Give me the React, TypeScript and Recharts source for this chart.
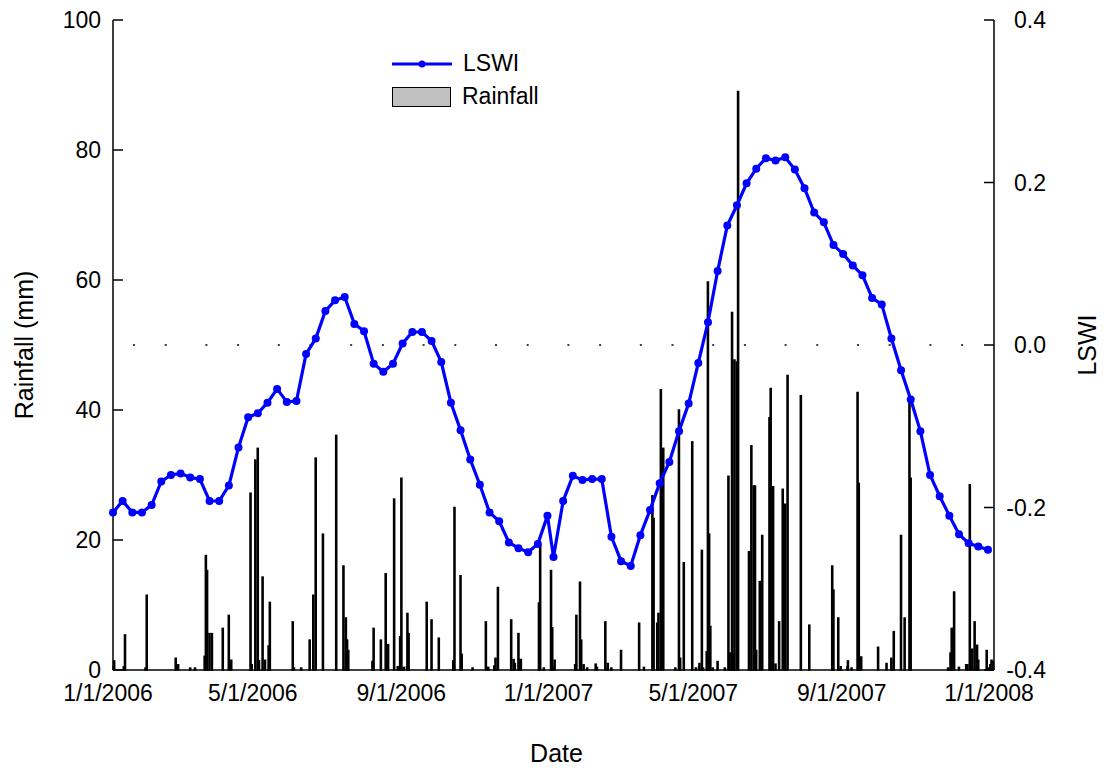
import { ComposedChart, Bar, Line, XAxis, YAxis, ReferenceLine, Legend } from "recharts";

const FONT = '"Liberation Sans", Arial, sans-serif';
const BLUE = "#0000ff";

// LSWI, MODIS 8-day composites starting on day-of-year 1, 9, 17 ... 361
const lswi2006 = [
  -0.206, -0.192, -0.206, -0.206, -0.197, -0.168, -0.16, -0.158, -0.163, -0.165, -0.192, -0.192,
  -0.173, -0.126, -0.089, -0.084, -0.071, -0.054, -0.07, -0.069, -0.011, 0.008, 0.042, 0.055,
  0.059, 0.026, 0.017, -0.023, -0.033, -0.023, 0.002, 0.016, 0.016, 0.005, -0.021, -0.071,
  -0.105, -0.141, -0.172, -0.206, -0.217, -0.243, -0.25, -0.255, -0.245, -0.21,
];
const lswi2007 = [
  -0.261, -0.192, -0.161, -0.166, -0.165, -0.165, -0.236, -0.266, -0.272, -0.234, -0.203, -0.17,
  -0.144, -0.106, -0.072, -0.022, 0.028, 0.091, 0.147, 0.172, 0.199, 0.217, 0.23, 0.227,
  0.231, 0.216, 0.193, 0.163, 0.151, 0.123, 0.112, 0.098, 0.086, 0.058, 0.05, 0.008,
  -0.031, -0.067, -0.106, -0.16, -0.186, -0.21, -0.233, -0.244, -0.248, -0.252,
];

// daily rainfall: day of year and mm (dry days left out)
const rain2006Doy = [
  2, 10, 11, 28, 29, 53, 55, 65, 69, 77, 78, 79, 81, 83, 92, 97, 99, 115, 116, 119, 121, 122, 125,
  127, 130, 131, 150, 151, 157, 164, 167, 169, 175, 186, 192, 194, 195, 196, 216, 217, 223, 227,
  229, 234, 237, 239, 240, 242, 245, 246, 261, 265, 271, 283, 284, 289, 290, 299, 310, 312, 317,
  318, 320, 331, 333, 334, 337, 338, 339, 354, 355, 358, 364, 365,
];
const rain2006Mm = [
  1.4, 0.5, 5.4, 0.3, 11.5, 1.8, 0.8, 0.3, 0.3, 2.1, 17.6, 15.3, 5.6, 5.6, 6.4, 8.4, 1.5, 27.2, 0.8,
  32.3, 34.1, 1.4, 14.3, 1.5, 3.7, 10.4, 7.4, 0.3, 0.3, 4.6, 11.5, 32.6, 20.9, 36.1, 16.0, 8.0, 4.6,
  3.0, 1.3, 6.4, 4.6, 14.8, 3.9, 26.3, 0.5, 5.1, 29.5, 0.4, 8.7, 5.6, 10.4, 7.7, 4.9, 1.4, 25.0,
  14.5, 2.4, 0.3, 7.4, 0.4, 0.6, 1.8, 12.7, 7.7, 1.6, 1.0, 5.6, 1.6, 1.6, 10.3, 19.1, 0.3, 15.3, 6.5,
];
const rain2007Doy = [
  2, 19, 20, 23, 24, 26, 29, 36, 37, 44, 46, 49, 57, 72, 76, 83, 84, 87, 88, 90, 92, 102, 105, 106,
  109, 116, 119, 122, 124, 125, 128, 129, 130, 131, 133, 137, 143, 146, 147, 149, 150, 151, 153,
  154, 163, 165, 167, 168, 169, 172, 174, 180, 181, 183, 185, 188, 191, 193, 195, 206, 213, 232,
  233, 237, 239, 245, 248, 253, 254, 256, 270, 277, 281, 283, 289, 292, 296, 297, 328, 330, 331,
  333, 337, 343, 344, 346, 348, 350, 352, 353, 360, 362, 363, 364, 365,
];
const rain2007Mm = [
  1.5, 0.8, 8.4, 13.5, 4.6, 0.8, 0.3, 0.9, 0.4, 7.4, 1.0, 0.3, 3.0, 7.2, 0.4, 26.8, 23.3, 7.2, 8.7,
  43.1, 34.1, 0.3, 40.0, 1.8, 16.5, 35.1, 0.3, 1.0, 18.4, 0.3, 2.8, 59.7, 20.9, 6.7, 0.3, 1.3, 0.3,
  29.8, 2.6, 55.0, 2.4, 47.7, 47.4, 89.0, 18.2, 34.5, 28.3, 28.3, 3.0, 13.6, 20.7, 38.8, 43.3, 28.2,
  0.9, 7.4, 27.8, 25.5, 45.3, 42.2, 6.9, 16.0, 12.3, 8.0, 0.5, 1.4, 0.3, 42.7, 28.7, 2.0, 3.5, 1.0,
  1.8, 5.9, 20.7, 8.0, 42.1, 29.5, 0.3, 2.6, 6.4, 12.0, 0.4, 0.8, 0.8, 28.5, 3.2, 7.4, 3.8, 1.5,
  3.0, 0.3, 0.8, 1.5, 1.3,
];

const xTickDates = ["2006-01-01", "2006-05-01", "2006-09-01", "2007-01-01", "2007-05-01", "2007-09-01", "2008-01-01"];
const rainTicks = [0, 20, 40, 60, 80, 100];
const lswiTicks = [-0.4, -0.2, 0, 0.2, 0.4];

const DAY = 86400000;
const doyTime = (year: number, doy: number) => Date.UTC(year, 0, 1) + (doy - 1) * DAY;
const xTicks = xTickDates.map((d) => Date.parse(d));

type Row = { t: number; rain?: number; lswi?: number };
const rows = new Map<number, Row>();
const put = (t: number, key: "rain" | "lswi", v: number) => {
  const r = rows.get(t) ?? { t };
  r[key] = v;
  rows.set(t, r);
};
lswi2006.forEach((v, i) => put(doyTime(2006, 1 + 8 * i), "lswi", v));
lswi2007.forEach((v, i) => put(doyTime(2007, 1 + 8 * i), "lswi", v));
rain2006Doy.forEach((d, i) => put(doyTime(2006, d), "rain", rain2006Mm[i]));
rain2007Doy.forEach((d, i) => put(doyTime(2007, d), "rain", rain2007Mm[i]));
const data = [...rows.values()].sort((a, b) => a.t - b.t);

const fmtDate = (t: number) => {
  const d = new Date(t);
  return `${d.getUTCMonth() + 1}/${d.getUTCDate()}/${d.getUTCFullYear()}`;
};

const txt = { fontFamily: FONT, fill: "#000" };

const LeftTick = ({ x, y, payload }: any) => (
  <g>
    <line x1={x} x2={x + 10} y1={y} y2={y} stroke="#000" strokeWidth={1.5} />
    <text x={x - 12} y={y} dy="0.36em" textAnchor="end" fontSize={23} {...txt}>
      {payload.value}
    </text>
  </g>
);

const RightTick = ({ x, y, payload }: any) => (
  <g>
    <line x1={x - 10} x2={x} y1={y} y2={y} stroke="#000" strokeWidth={1.5} />
    <text x={x + 52} y={y} dy="0.36em" textAnchor="end" fontSize={23} {...txt}>
      {Number(payload.value).toFixed(1)}
    </text>
  </g>
);

const BottomTick = ({ x, y, payload }: any) => (
  <g>
    <line x1={x} x2={x} y1={y - 4} y2={y} stroke="#000" strokeWidth={1} />
    <text x={x - 5} y={y + 23} dy="0.36em" textAnchor="middle" fontSize={23} {...txt}>
      {fmtDate(payload.value)}
    </text>
  </g>
);

const TopTick = ({ x, y }: any) => <line x1={x} x2={x} y1={y} y2={y + 4} stroke="#000" strokeWidth={1} />;

const vTitle = (text: string, dx: number) => ({ viewBox }: any) => {
  const cx = viewBox.x + dx;
  const cy = viewBox.y + viewBox.height / 2;
  return (
    <text x={cx} y={cy} dy="0.36em" textAnchor="middle" fontSize={25} transform={`rotate(-90 ${cx} ${cy})`} {...txt}>
      {text}
    </text>
  );
};

const dateTitle = ({ viewBox }: any) => (
  <text x={viewBox.x + viewBox.width / 2 + 3} y={viewBox.y + 83} dy="0.36em" textAnchor="middle" fontSize={25} {...txt}>
    Date
  </text>
);

const lswiDot = (p: any) =>
  p.value == null || p.cy == null ? <g key={p.index} /> : <circle key={p.index} cx={p.cx} cy={p.cy} r={4} fill={BLUE} />;

const LegendBox = () => (
  <div style={{ fontFamily: FONT, fontSize: 23, color: "#000", lineHeight: 1 }}>
    <div style={{ display: "flex", alignItems: "center", height: 33 }}>
      <svg width={62} height={12}>
        <line x1={1} x2={61} y1={6} y2={6} stroke={BLUE} strokeWidth={3} />
        <circle cx={31} cy={6} r={3.5} fill={BLUE} />
      </svg>
      <span style={{ marginLeft: 10 }}>LSWI</span>
    </div>
    <div style={{ display: "flex", alignItems: "center", height: 33 }}>
      <div style={{ width: 57, height: 18, background: "#c0c0c0", border: "1.5px solid #000", marginLeft: 1 }} />
      <span style={{ marginLeft: 11 }}>Rainfall</span>
    </div>
  </div>
);

export default function App() {
  return (
    <div style={{ position: "absolute", left: 0, top: 0, width: 1106, height: 768, background: "#fff" }}>
      <ComposedChart width={1106} height={768} data={data} margin={{ top: 20, right: 0, bottom: 0, left: 0 }}>
        <XAxis
          dataKey="t"
          type="number"
          domain={[xTicks[0], xTicks[xTicks.length - 1]]}
          ticks={xTicks}
          height={98}
          tickSize={0}
          tickMargin={0}
          tickLine={false}
          tick={<BottomTick />}
          axisLine={{ stroke: "#000", strokeWidth: 1.5 }}
          label={dateTitle}
        />
        <XAxis
          xAxisId="top"
          dataKey="t"
          type="number"
          orientation="top"
          domain={[xTicks[0], xTicks[xTicks.length - 1]]}
          ticks={xTicks}
          height={0}
          tickSize={0}
          tickMargin={0}
          tickLine={false}
          tick={<TopTick />}
          axisLine={{ stroke: "#000", strokeWidth: 1.5 }}
        />
        <YAxis
          yAxisId="left"
          domain={[0, 100]}
          ticks={rainTicks}
          width={113}
          tickSize={0}
          tickMargin={0}
          tickLine={false}
          tick={<LeftTick />}
          axisLine={{ stroke: "#000", strokeWidth: 1.5 }}
          label={vTitle("Rainfall (mm)", 24)}
        />
        <YAxis
          yAxisId="right"
          orientation="right"
          domain={[-0.4, 0.4]}
          ticks={lswiTicks}
          width={112}
          tickSize={0}
          tickMargin={0}
          tickLine={false}
          tick={<RightTick />}
          axisLine={{ stroke: "#000", strokeWidth: 1.5 }}
          label={vTitle("LSWI", 93)}
        />
        <ReferenceLine yAxisId="right" y={0} stroke="#000" strokeWidth={1.5} strokeDasharray="0 30.9 2 29.7 2 7.8" />
        <Bar
          yAxisId="left"
          dataKey="rain"
          barSize={2}
          fill="#c0c0c0"
          stroke="#000"
          strokeWidth={1.5}
          isAnimationActive={false}
        />
        <Line
          yAxisId="right"
          dataKey="lswi"
          type="linear"
          stroke={BLUE}
          strokeWidth={3.2}
          connectNulls
          dot={lswiDot}
          activeDot={false}
          isAnimationActive={false}
        />
        <Legend
          layout="horizontal"
          verticalAlign="middle"
          align="center"
          content={<LegendBox />}
          wrapperStyle={{ left: 391, top: 47, width: 200, height: 70 }}
        />
      </ComposedChart>
    </div>
  );
}
